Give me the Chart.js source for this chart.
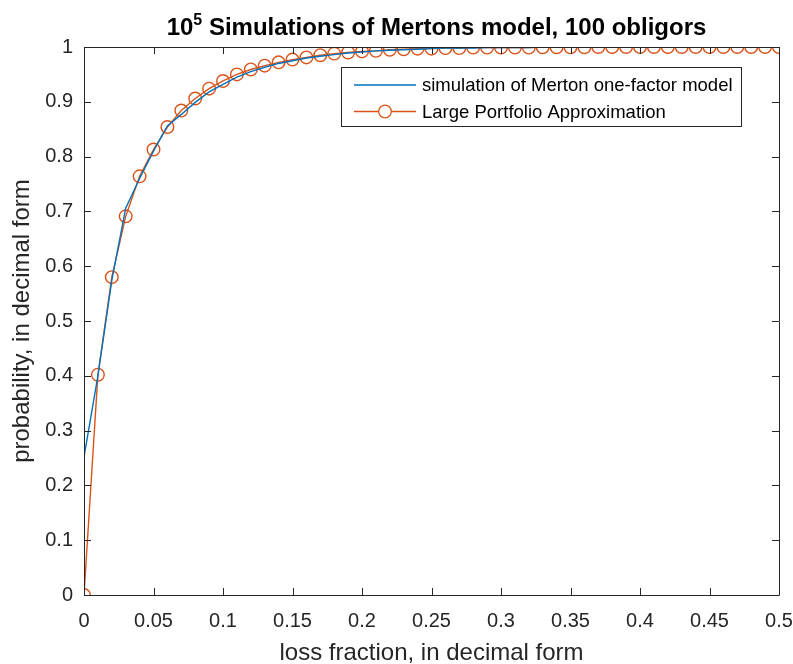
<!DOCTYPE html>
<html>
<head>
<meta charset="utf-8">
<script src="https://cdn.jsdelivr.net/npm/chart.js@4/dist/chart.umd.min.js"></script>
<style>
  html, body { margin: 0; padding: 0; background: #fff; }
  #wrap { width: 793px; height: 664px; }
</style>
</head>
<body>
<div id="wrap"><canvas id="chart" width="793" height="664"></canvas></div>
<script>
// loss fraction (x), one point per obligor step
const lossFraction = [0, 0.01, 0.02, 0.03, 0.04, 0.05, 0.06, 0.07, 0.08, 0.09,
  0.10, 0.11, 0.12, 0.13, 0.14, 0.15, 0.16, 0.17, 0.18, 0.19,
  0.20, 0.21, 0.22, 0.23, 0.24, 0.25, 0.26, 0.27, 0.28, 0.29,
  0.30, 0.31, 0.32, 0.33, 0.34, 0.35, 0.36, 0.37, 0.38, 0.39,
  0.40, 0.41, 0.42, 0.43, 0.44, 0.45, 0.46, 0.47, 0.48, 0.49, 0.50];

// simulated CDF (blue)
const simulated = [0.252, 0.400, 0.574, 0.706, 0.760, 0.810, 0.856, 0.877, 0.899, 0.918,
  0.932, 0.945, 0.955, 0.963, 0.970, 0.975, 0.980, 0.983, 0.986, 0.989,
  0.991, 0.993, 0.994, 0.995, 0.996, 0.997, 0.998, 0.998, 0.998, 0.999,
  0.999, 0.999, 0.999, 1, 1, 1, 1, 1, 1, 1,
  1, 1, 1, 1, 1, 1, 1, 1, 1, 1, 1];

// large portfolio approximation (orange, circles)
const approximation = [0, 0.402, 0.580, 0.691, 0.764, 0.813, 0.854, 0.884, 0.906, 0.924,
  0.938, 0.950, 0.959, 0.966, 0.972, 0.977, 0.981, 0.985, 0.988, 0.990,
  0.992, 0.993, 0.995, 0.996, 0.997, 0.997, 0.998, 0.998, 0.999, 0.999,
  0.999, 0.999, 0.999, 0.9995, 0.9995, 0.9995, 0.9995, 1, 1, 1,
  1, 1, 1, 1, 1, 1, 1, 1, 1, 1, 1];

const seriesNames = ['simulation of Merton one-factor model', 'Large Portfolio Approximation'];
const titleBase = '10';
const titleExp = '5';
const titleRest = ' Simulations of Mertons model, 100 obligors';
const xLabel = 'loss fraction, in decimal form';
const yLabel = 'probability, in decimal form';

const BLUE = '#0072BD';
const ORANGE = '#D95319';
const INK = '#262626';
const FONT = '"Liberation Sans", Arial, sans-serif';

const toPoints = ys => ys.map((y, i) => ({ x: lossFraction[i], y: y }));

// MATLAB style box, inward ticks, title and legend
const matlabFrame = {
  id: 'matlabFrame',
  afterDraw(chart) {
    const ctx = chart.ctx;
    const a = chart.chartArea;
    const xs = chart.scales.x, ys = chart.scales.y;
    ctx.save();
    ctx.strokeStyle = INK;
    ctx.lineWidth = 1;
    ctx.beginPath();
    ctx.rect(Math.round(a.left) + 0.5, Math.round(a.top) + 0.5,
      Math.round(a.right - a.left), Math.round(a.bottom - a.top));
    ctx.stroke();
    const tl = 7;
    ctx.beginPath();
    xs.ticks.forEach(t => {
      const px = Math.round(xs.getPixelForValue(t.value)) + 0.5;
      ctx.moveTo(px, a.bottom); ctx.lineTo(px, a.bottom - tl);
      ctx.moveTo(px, a.top); ctx.lineTo(px, a.top + tl);
    });
    ys.ticks.forEach(t => {
      const py = Math.round(ys.getPixelForValue(t.value)) + 0.5;
      ctx.moveTo(a.left, py); ctx.lineTo(a.left + tl, py);
      ctx.moveTo(a.right, py); ctx.lineTo(a.right - tl, py);
    });
    ctx.stroke();

    // title with superscript exponent
    ctx.fillStyle = '#000';
    ctx.textBaseline = 'alphabetic';
    const big = 'bold 24px ' + FONT, small = 'bold 16px ' + FONT;
    ctx.font = big;
    const w1 = ctx.measureText(titleBase).width;
    const w3 = ctx.measureText(titleRest).width;
    ctx.font = small;
    const w2 = ctx.measureText(titleExp).width;
    let tx = (a.left + a.right) / 2 + 5 - (w1 + w2 + w3) / 2;
    const ty = 35;
    ctx.font = big; ctx.textAlign = 'left';
    ctx.fillText(titleBase, tx, ty); tx += w1;
    ctx.font = small;
    ctx.fillText(titleExp, tx, ty - 10); tx += w2;
    ctx.font = big;
    ctx.fillText(titleRest, tx, ty);

    // legend box
    const lx = 341.5, ly = 67.5, lw = 400, lh = 59;
    ctx.fillStyle = '#fff';
    ctx.fillRect(lx, ly, lw, lh);
    ctx.strokeStyle = INK;
    ctx.strokeRect(lx, ly, lw, lh);
    ctx.font = '18.5px ' + FONT;
    ctx.textBaseline = 'middle';
    ctx.fillStyle = '#000';
    const rows = [85, 111.5];
    const cols = [BLUE, ORANGE];
    rows.forEach((ry, i) => {
      ctx.strokeStyle = cols[i];
      ctx.lineWidth = 1.3;
      ctx.beginPath();
      ctx.moveTo(354, ry); ctx.lineTo(416, ry);
      ctx.stroke();
      if (i === 1) {
        ctx.beginPath();
        ctx.arc(385, ry, 6.3, 0, Math.PI * 2);
        ctx.fillStyle = '#fff';
        ctx.fill();
        ctx.stroke();
      }
      ctx.fillStyle = '#000';
      ctx.fillText(seriesNames[i], 422, ry + 1);
    });
    ctx.restore();
  }
};

new Chart(document.getElementById('chart'), {
  type: 'line',
  data: {
    datasets: [
      {
        label: seriesNames[0],
        data: toPoints(simulated),
        borderColor: BLUE,
        borderWidth: 1.4,
        pointRadius: 0,
        tension: 0,
        fill: false
      },
      {
        label: seriesNames[1],
        data: toPoints(approximation),
        borderColor: ORANGE,
        borderWidth: 1.4,
        pointRadius: 6.3,
        pointBorderWidth: 1.4,
        pointBackgroundColor: 'rgba(0,0,0,0)',
        pointBorderColor: ORANGE,
        tension: 0,
        fill: false
      }
    ]
  },
  options: {
    responsive: false,
    animation: false,
    devicePixelRatio: 1,
    layout: { padding: { left: 0, top: 47, right: 14, bottom: 0 } },
    plugins: {
      legend: { display: false },
      tooltip: { enabled: false }
    },
    scales: {
      x: {
        type: 'linear',
        min: 0, max: 0.5,
        afterFit(scale) {
          scale.height = 69;
          scale.paddingLeft = 0;
          scale.paddingRight = 0;
        },
        border: { display: false },
        grid: { display: false, drawTicks: false },
        ticks: {
          stepSize: 0.05,
          padding: 14,
          color: INK,
          font: { family: FONT, size: 20 },
          maxRotation: 0,
          autoSkip: false,
          callback: v => String(Math.round(v * 100) / 100)
        },
        title: {
          display: true,
          text: xLabel,
          color: INK,
          font: { family: FONT, size: 24, lineHeight: 0.85 },
          padding: { top: 0, bottom: 0 }
        }
      },
      y: {
        min: 0, max: 1,
        afterFit(scale) {
          scale.width = 84;
          scale.paddingTop = 0;
          scale.paddingBottom = 0;
        },
        border: { display: false },
        grid: { display: false, drawTicks: false },
        ticks: {
          stepSize: 0.1,
          padding: 11,
          color: INK,
          font: { family: FONT, size: 20 },
          autoSkip: false,
          callback: v => String(Math.round(v * 10) / 10)
        },
        title: {
          display: true,
          text: yLabel,
          color: INK,
          font: { family: FONT, size: 24 },
          padding: { top: 8, bottom: 0 }
        }
      }
    }
  },
  plugins: [matlabFrame]
});
</script>
</body>
</html>
